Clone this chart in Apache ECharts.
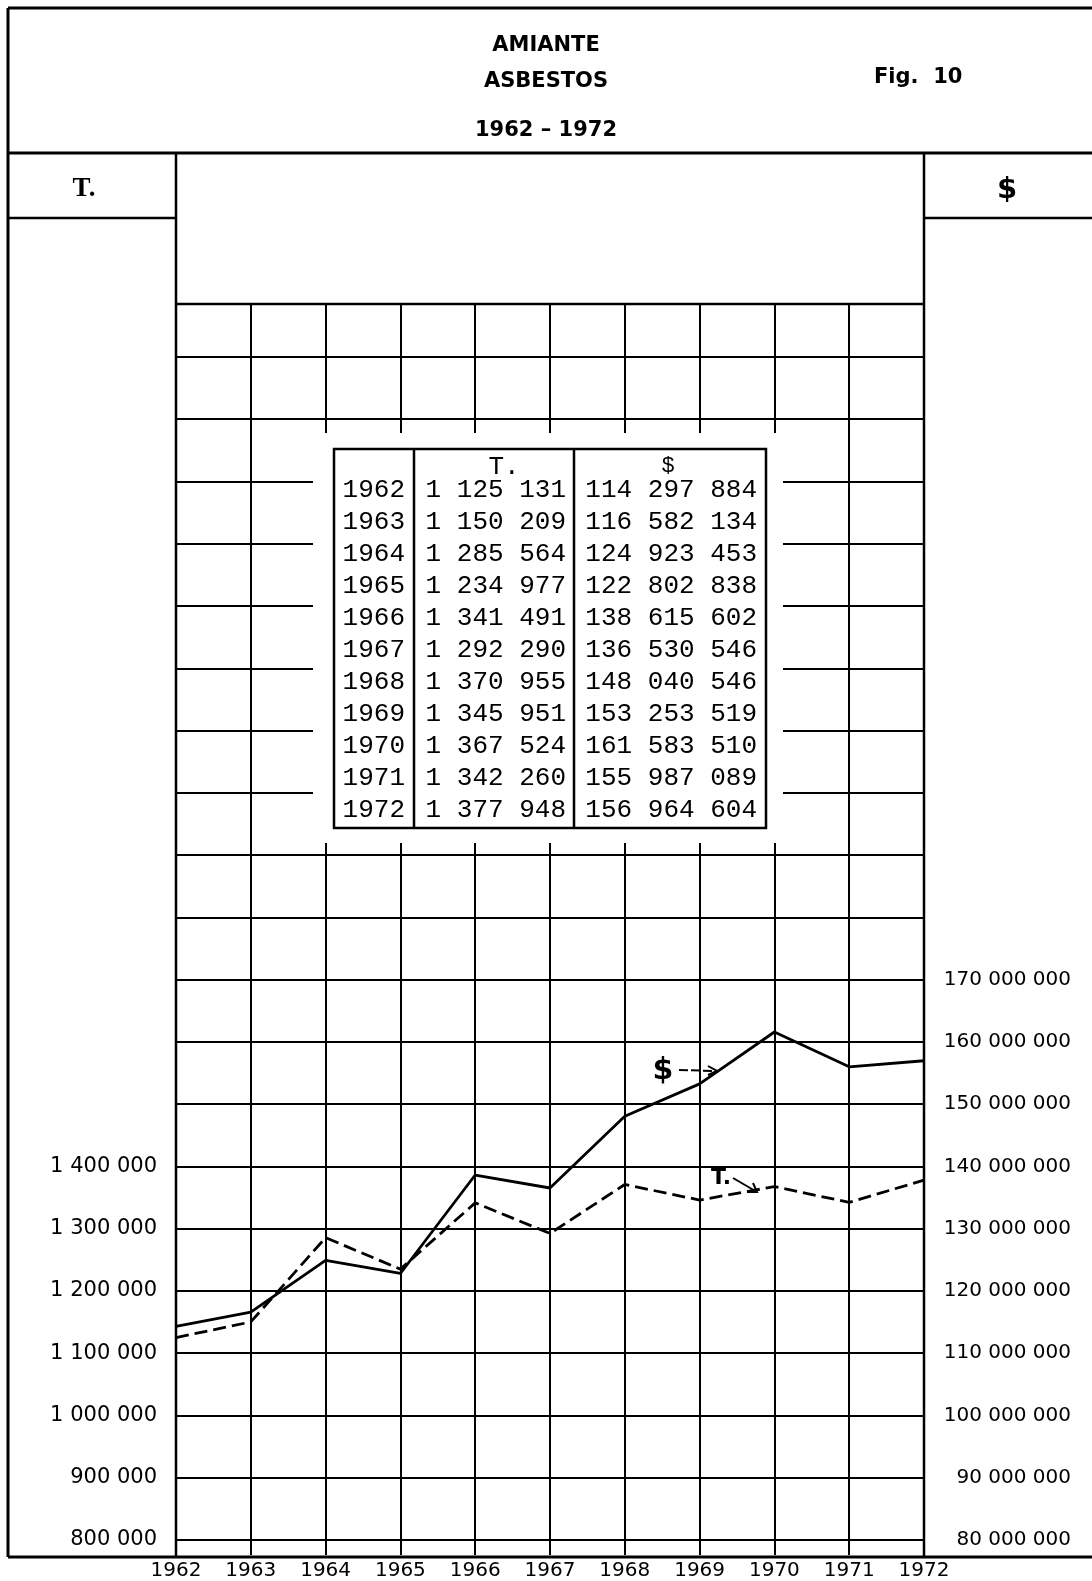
<!DOCTYPE html>
<html>
<head>
<meta charset="utf-8">
<script src="https://cdn.jsdelivr.net/npm/echarts@6/dist/echarts.min.js"></script>
<style>
html,body{margin:0;padding:0;background:#fff;}
#c{width:1092px;height:1581px;}
</style>
</head>
<body>
<div id="c"></div>
<script>
// ---- data ----
const years = ['1962','1963','1964','1965','1966','1967','1968','1969','1970','1971','1972'];
const tons = [1125131,1150209,1285564,1234977,1341491,1292290,1370955,1345951,1367524,1342260,1377948];
const dollars = [114297884,116582134,124923453,122802838,138615602,136530546,148040546,153253519,161583510,155987089,156964604];
const leftTickValues = [800000,900000,1000000,1100000,1200000,1300000,1400000];
const rightTickValues = [80000000,90000000,100000000,110000000,120000000,130000000,140000000,150000000,160000000,170000000];

function fmt(v){ return String(v).replace(/\B(?=(\d{3})+(?!\d))/g,' '); }

// ---- layout ----
const GL = 176, GR = 924, GT = 304, GB = 1542, FB = 1557, FL = 8, FT = 8;
const AX = '"DejaVu Sans", sans-serif';
const TT = '"DejaVu Sans", sans-serif';
const MONO = '"Liberation Mono", "DejaVu Sans Mono", monospace';

const g = [];
function line(x1,y1,x2,y2,w){
  g.push({type:'line', z:100, shape:{x1:x1,y1:y1,x2:x2,y2:y2}, style:{stroke:'#000', lineWidth:w||3}});
}
function txt(x,y,t,font,align,extra){
  const st = Object.assign({text:t, font:font, fill:'#000', align:align||'center', textAlign:align||'center', verticalAlign:'middle', textVerticalAlign:'middle'}, extra||{});
  g.push({type:'text', z:101, x:x, y:y, style:st});
}

// frame
line(FL, FT, 1092, FT, 3);
line(FL, FT, FL, FB, 3);
line(FL, 153, 1092, 153, 3);
line(FL, FB, 1092, FB, 3);
line(GL, 153, GL, FB, 2.5);
line(GR, 153, GR, FB, 2.5);
line(FL, 218, GL, 218, 2.5);
line(GR, 218, 1092, 218, 2.5);
line(GL, GT, GR, GT, 2.5);

// titles
txt(546, 46, 'AMIANTE', '600 21px ' + TT);
txt(546, 82, 'ASBESTOS', '600 21px ' + TT);
txt(546, 131, '1962 – 1972', '600 21px ' + TT);
txt(874, 78, 'Fig.  10', '600 21px ' + TT, 'left');
txt(84, 189, 'T.', 'bold 27px "Liberation Serif", serif');
txt(1007, 190, '$', 'bold 29px ' + AX);

// table
g.push({type:'rect', z:99, shape:{x:313, y:433, width:470, height:410}, style:{fill:'#fff'}});
g.push({type:'rect', z:100, shape:{x:334, y:449, width:432, height:379}, style:{fill:'#fff', stroke:'#000', lineWidth:2.5}});
line(414, 449, 414, 828, 2.5);
line(574, 449, 574, 828, 2.5);
txt(504, 467, 'T.', '26px ' + MONO);
txt(668, 466, '$', '22px ' + MONO);
for (let i = 0; i < years.length; i++) {
  const y = 490 + 32 * i;
  txt(405, y, years[i], '26px ' + MONO, 'right');
  txt(566, y, fmt(tons[i]), '26px ' + MONO, 'right');
  txt(757, y, fmt(dollars[i]), '26px ' + MONO, 'right');
}

// annotations
txt(663, 1071, '$', 'bold 30px ' + AX);
g.push({type:'line', z:100, shape:{x1:679,y1:1070,x2:716,y2:1071}, style:{stroke:'#000', lineWidth:2, lineDash:[9,3]}});
g.push({type:'polyline', z:100, shape:{points:[[708,1066],[717,1071],[708,1075]]}, style:{stroke:'#000', lineWidth:2, fill:null}});
txt(721, 1178, 'T.', 'bold 22px ' + AX);
g.push({type:'line', z:100, shape:{x1:733,y1:1178,x2:757,y2:1192}, style:{stroke:'#000', lineWidth:2}});
g.push({type:'polyline', z:100, shape:{points:[[747,1192],[757,1192],[753,1183]]}, style:{stroke:'#000', lineWidth:2, fill:null}});

const chart = echarts.init(document.getElementById('c'), null, {renderer:'canvas'});
chart.setOption({
  animation: false,
  backgroundColor: '#fff',
  grid: {left: GL, right: 1092 - GR, top: GT, bottom: 1581 - GB, containLabel: false},
  xAxis: {
    type: 'category', data: years, boundaryGap: false,
    axisLine: {show: true, lineStyle: {color: '#000', width: 2}},
    axisTick: {show: true, length: FB - GB, inside: false, lineStyle: {color: '#000', width: 2}},
    splitLine: {show: true, lineStyle: {color: '#000', width: 2}},
    axisLabel: {interval: 0, margin: 21, color: '#000', fontFamily: AX, fontSize: 20}
  },
  yAxis: [
    {
      type: 'value', position: 'left', min: 800000, max: 2785000, interval: 100000,
      axisLine: {show: true, lineStyle: {color: '#000', width: 2}},
      axisTick: {show: false},
      splitLine: {show: true, lineStyle: {color: '#000', width: 2}},
      axisLabel: {
        margin: 19, color: '#000', fontFamily: AX, fontSize: 21,
        formatter: function(v){ return leftTickValues.indexOf(v) >= 0 ? fmt(v) : ''; }
      }
    },
    {
      type: 'value', position: 'right', min: 80000000, max: 278500000, interval: 10000000,
      axisLine: {show: true, lineStyle: {color: '#000', width: 2}},
      axisTick: {show: false},
      splitLine: {show: false},
      axisLabel: {
        margin: 147, align: 'right', color: '#000', fontFamily: AX, fontSize: 20,
        formatter: function(v){ return rightTickValues.indexOf(v) >= 0 ? fmt(v) : ''; }
      }
    }
  ],
  series: [
    {
      name: 'T.', type: 'line', yAxisIndex: 0, data: tons, symbol: 'none', z: 5,
      lineStyle: {color: '#000', width: 2.8, type: [13, 6]}
    },
    {
      name: '$', type: 'line', yAxisIndex: 1, data: dollars, symbol: 'none', z: 5,
      lineStyle: {color: '#000', width: 2.8}
    }
  ],
  graphic: {elements: g}
});
</script>
</body>
</html>
